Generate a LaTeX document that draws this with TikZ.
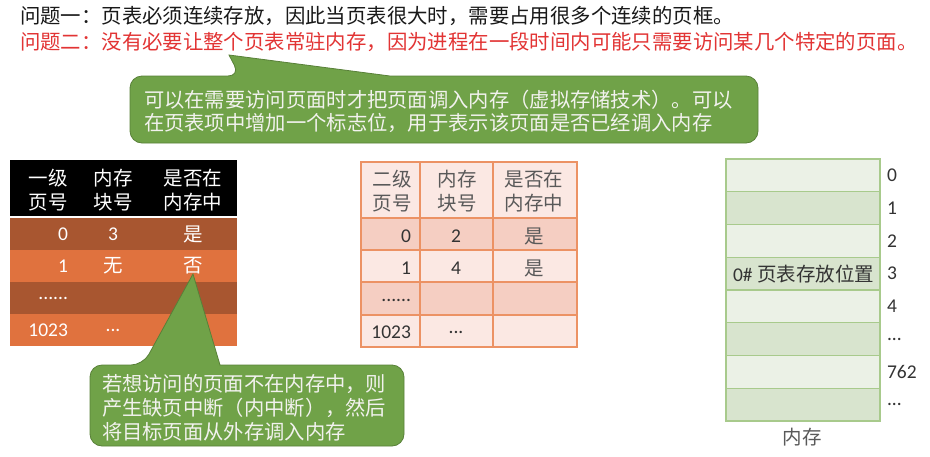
\documentclass[tikz,border=0pt]{standalone}
\usepackage{fontspec}
\setmainfont{Carlito}
\newfontfamily\cjk{Noto Sans CJK SC}
\newcommand\tdots{...}
\definecolor{qred}{RGB}{226,52,52}
\definecolor{cgreen}{RGB}{112,162,72}
\definecolor{cgreenD}{RGB}{88,128,56}
\definecolor{ctxt}{RGB}{242,242,238}
\definecolor{ldark}{RGB}{168,86,48}
\definecolor{llight}{RGB}{224,114,62}
\definecolor{mlight}{RGB}{251,232,227}
\definecolor{mdark}{RGB}{245,206,194}
\definecolor{mline}{RGB}{236,146,100}
\definecolor{glight}{RGB}{235,241,230}
\definecolor{gdark}{RGB}{216,228,206}
\definecolor{gline}{RGB}{168,202,140}
\begin{document}
\begin{tikzpicture}[x=1pt,y=-1pt,
  every node/.style={inner sep=0pt, outer sep=0pt},
  big/.style={font=\cjk\fontsize{20.4}{24}\selectfont, anchor=west},
  callout/.style={fill=cgreen, draw=cgreenD, line width=0.8pt},
  ctext/.style={font=\cjk\fontsize{20.3}{24}\selectfont, text=ctxt, anchor=west},
  hd/.style={font=\cjk\fontsize{19.5}{24}\selectfont, align=center},
  cj/.style={font=\cjk\fontsize{19.5}{24}\selectfont},
  num/.style={font=\fontsize{19.5}{22}\selectfont},
  lt/.style={text=white},
  mt/.style={text=black!80},
  mh/.style={text=black!65},
]
\useasboundingbox (0,0) rectangle (930,456);
\fill[white] (0,0) rectangle (930,456);

% header lines
\node[big, text=black!90] (q1) at (20,16) {问题一：页表必须连续存放，因此当页表很大时，需要占用很多个连续的页框。};
\node[big, text=qred] (q2) at (20,42) {问题二：没有必要让整个页表常驻内存，因为进程在一段时间内可能只需要访问某几个特定的页面。};

% callout 1
\path[callout] (229,55) -- (390,76) [rounded corners=12pt] -- (758,76) -- (758,143) -- (130,143) -- (130,76) -- (240,76) [sharp corners] -- cycle;
\node[ctext] (c1a) at (144,100) {可以在需要访问页面时才把页面调入内存（虚拟存储技术）。可以};
\node[ctext] (c1b) at (144,123) {在页表项中增加一个标志位，用于表示该页面是否已经调入内存};

% left table
\fill[black] (10,160) rectangle (237,216);
\fill[ldark] (10,218) rectangle (237,250);
\fill[llight] (10,250) rectangle (237,282);
\fill[ldark] (10,282) rectangle (237,314);
\fill[llight] (10,314) rectangle (237,346);
\node[hd, lt] (lh1) at (48,190) {一级\\页号};
\node[hd, lt] (lh2) at (113,190) {内存\\块号};
\node[hd, lt] (lh3) at (193,190) {是否在\\内存中};
\node[num, lt, anchor=east] (l01) at (68,234) {0};
\node[num, lt] (l02) at (113,234) {3};
\node[cj, lt] (l03) at (193,234) {是};
\node[num, lt, anchor=east] (l11) at (68,266) {1};
\node[cj, lt] (l12) at (113,266) {无};
\node[cj, lt] (l13) at (193,266) {否};
\node[num, lt, anchor=east] (l21) at (68,298) {......};
\node[num, lt, anchor=east] (l31) at (68,330) {1023};
\node[num, lt] (l32) at (113,330) {...};

% callout 2
\path[callout] (193,274) -- (220,365) [rounded corners=12pt] -- (404,365) -- (404,446) -- (90,446) -- (90,365) -- (143,365) [sharp corners] -- cycle;
\node[ctext] (c2a) at (102,384) {若想访问的页面不在内存中，则};
\node[ctext] (c2b) at (102,408) {产生缺页中断（内中断），然后};
\node[ctext] (c2c) at (102,432) {将目标页面从外存调入内存};

% middle table
\fill[mlight] (361,162) rectangle (577,218);
\fill[mdark] (361,218) rectangle (577,250);
\fill[mlight] (361,250) rectangle (577,282);
\fill[mdark] (361,282) rectangle (577,315);
\fill[mlight] (361,315) rectangle (577,347);
\draw[mline, line width=1.4pt] (361,162) rectangle (577,347);
\foreach \yy in {218,250,282,315} \draw[mline, line width=1.4pt] (361,\yy) -- (577,\yy);
\foreach \xx in {420,493} \draw[mline, line width=1.4pt] (\xx,162) -- (\xx,347);
\node[hd, mh] (mh1) at (392,191) {二级\\页号};
\node[hd, mh] (mh2) at (457,191) {内存\\块号};
\node[hd, mh] (mh3) at (534,191) {是否在\\内存中};
\node[num, mt, anchor=east] (m01) at (411,236) {0};
\node[num, mt] (m02) at (456,236) {2};
\node[cj, mh] (m03) at (534,236) {是};
\node[num, mt, anchor=east] (m11) at (411,268) {1};
\node[num, mt] (m12) at (456,268) {4};
\node[cj, mh] (m13) at (534,268) {是};
\node[num, mt, anchor=east] (m21) at (411,300) {......};
\node[num, mt, anchor=east] (m31) at (411,332) {1023};
\node[num, mt] (m32) at (456,332) {...};

% memory column
\foreach \k in {0,1,2,3,4,5,6,7} {
  \pgfmathsetmacro{\ya}{159+\k*32.75}
  \pgfmathsetmacro{\yb}{159+(\k+1)*32.75}
  \pgfmathparse{mod(\k,2)==0 ? "glight" : "gdark"}
  \edef\cc{\pgfmathresult}
  \fill[\cc] (726,\ya) rectangle (880,\yb);
  \draw[gline, line width=1.2pt] (726,\ya) rectangle (880,\yb);
}
\foreach \k/\t in {0/0,1/1,2/2,3/3,4/4,5/\tdots,6/762,7/\tdots} {
  \node[num, mt, anchor=west] (ml\k) at (887,{159+(\k+0.5)*32.75}) {\t};
}
\node[mt, anchor=west] (p0) at (733,273.6) {\fontsize{19.5}{22}\selectfont 0\# {\cjk\fontsize{19.5}{24}\selectfont 页表存放位置}};
\node[cj, mh] (nc) at (802,437) {内存};
\end{tikzpicture}
\end{document}
